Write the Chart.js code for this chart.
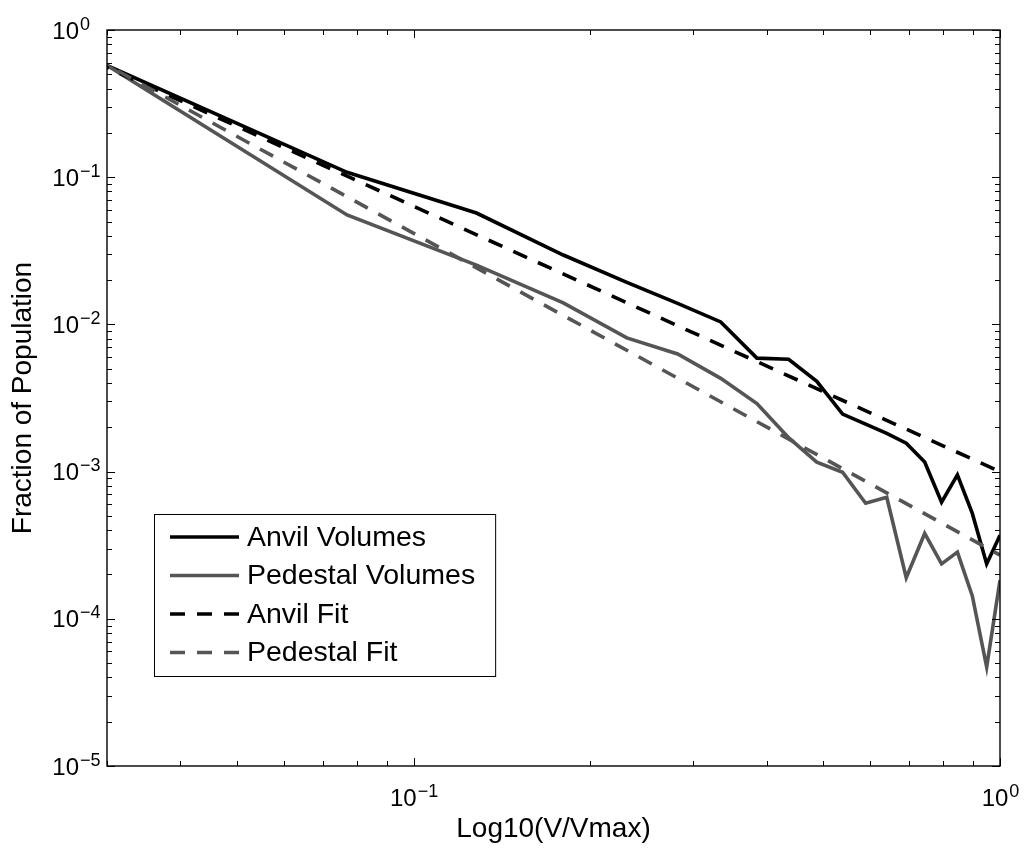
<!DOCTYPE html>
<html>
<head>
<meta charset="utf-8">
<script src="https://cdn.jsdelivr.net/npm/chart.js@4.4.0/dist/chart.umd.min.js"></script>
<style>
  html, body { margin: 0; padding: 0; background: #fff; }
  #wrap { width: 1026px; height: 848px; }
</style>
</head>
<body>
<div id="wrap"><canvas id="chart" width="1026" height="848"></canvas></div>
<script>
// V/Vmax bin positions (first one sits just left of the axis and gets clipped)
const xValues = [0.026, 0.077, 0.128, 0.180, 0.231, 0.282, 0.334, 0.385, 0.436, 0.487,
                 0.539, 0.590, 0.641, 0.692, 0.744, 0.795, 0.846, 0.897, 0.949, 1.0];
const anvilVolumes = [0.74, 0.108, 0.0571, 0.0296, 0.0193, 0.0139, 0.0104, 0.0059, 0.0058, 0.0041,
                      0.00246, 0.0021, 0.00182, 0.00156, 0.00116, 0.00062, 0.00095, 0.00052, 0.000236, 0.00037];
const pedestalVolumes = [0.82, 0.0554, 0.0253, 0.014, 0.0081, 0.0063, 0.0043, 0.0029, 0.0017, 0.00116,
                         0.00099, 0.00061, 0.00067, 0.00019, 0.00038, 0.000236, 0.000284, 0.000143, 0.000047, 0.000183];
// power-law fits, straight lines on log-log axes
const fitX = [0.026, 1.0];
const anvilFit = [0.72, 0.001];
const pedestalFit = [0.79, 0.000271];

const labels = ['Anvil Volumes', 'Pedestal Volumes', 'Anvil Fit', 'Pedestal Fit'];
const xTickExps = [-1, 0];
const yTickExps = [0, -1, -2, -3, -4, -5];
const xTitle = 'Log10(V/Vmax)';
const yTitle = 'Fraction of Population';

const FONT = '"Liberation Sans", Arial, Helvetica, sans-serif';
const BLACK = '#000000';
const GREY = '#555555';

const pts = (xs, ys) => xs.map((x, i) => ({ x: x, y: ys[i] }));

function pow10(ctx, e, x, y, mode) {
    // draws "10" with a raised exponent; mode 'x' centres it, 'y' right-aligns the base
    const exp = e < 0 ? '\u2212' + (-e) : String(e);
    ctx.font = '24px ' + FONT;
    const wb = ctx.measureText('10').width;
    ctx.font = '18px ' + FONT;
    const we = ctx.measureText(exp).width;
    let bx;
    if (mode === 'x') bx = x - (wb + we) / 2;
    else bx = x - wb;
    ctx.font = '24px ' + FONT;
    ctx.fillText('10', bx, y);
    ctx.font = '18px ' + FONT;
    ctx.fillText(exp, bx + wb + 1, y - 9);
}

const frame = {
    id: 'frame',
    afterDatasetsDraw(chart) {
        const { ctx, chartArea: a, scales: { x, y } } = chart;
        ctx.save();
        ctx.strokeStyle = '#000';
        ctx.lineWidth = 1.4;
        ctx.strokeRect(a.left, a.top, a.right - a.left, a.bottom - a.top);

        ctx.lineWidth = 1;
        ctx.beginPath();
        // y ticks, both sides
        yTickExps.forEach(e => {
            for (let m = 1; m <= 9; m++) {
                const v = m * Math.pow(10, e);
                if (v > 1.0001 || v < 1e-5) continue;
                const py = Math.round(y.getPixelForValue(v)) + 0.5;
                const len = m === 1 ? 8 : 5;
                ctx.moveTo(a.left, py); ctx.lineTo(a.left + len, py);
                ctx.moveTo(a.right, py); ctx.lineTo(a.right - len, py);
            }
        });
        // x ticks, top and bottom
        [-2, -1, 0].forEach(e => {
            for (let m = 1; m <= 9; m++) {
                const v = m * Math.pow(10, e);
                if (v > 1.0001 || v < 0.03) continue;
                const px = Math.round(x.getPixelForValue(v)) + 0.5;
                const len = m === 1 ? 8 : 5;
                ctx.moveTo(px, a.bottom); ctx.lineTo(px, a.bottom - len);
                ctx.moveTo(px, a.top); ctx.lineTo(px, a.top + len);
            }
        });
        ctx.stroke();

        ctx.fillStyle = '#000';
        ctx.textAlign = 'left';
        ctx.textBaseline = 'alphabetic';
        yTickExps.forEach(e => pow10(ctx, e, 79, y.getPixelForValue(Math.pow(10, e)) + 8.5, 'y'));
        xTickExps.forEach(e => pow10(ctx, e, x.getPixelForValue(Math.pow(10, e)), 806, 'x'));

        ctx.font = '28px ' + FONT;
        ctx.textAlign = 'center';
        ctx.fillText(xTitle, (a.left + a.right) / 2, 837);
        ctx.save();
        ctx.translate(31, (a.top + a.bottom) / 2);
        ctx.rotate(-Math.PI / 2);
        ctx.fillText(yTitle, 0, 0);
        ctx.restore();
        ctx.restore();
    },
    afterDraw(chart) {
        // legend box in the lower left of the plot
        const ctx = chart.ctx;
        const ds = chart.data.datasets;
        const x0 = 154, y0 = 514, rowH = 38.5;
        ctx.save();
        ctx.font = '28.5px ' + FONT;
        const tw = Math.max(...ds.map(d => ctx.measureText(d.label).width));
        const w = 93 + tw + 20, h = rowH * 4 + 8;
        ctx.fillStyle = '#fff';
        ctx.fillRect(x0, y0, w, h);
        ctx.strokeStyle = '#000';
        ctx.lineWidth = 1;
        ctx.strokeRect(x0 + 0.5, y0 + 0.5, w, h);
        ds.forEach((d, i) => {
            const cy = y0 + 23 + i * rowH;
            ctx.strokeStyle = d.borderColor;
            ctx.lineWidth = d.borderWidth;
            ctx.setLineDash(d.borderDash || []);
            ctx.beginPath();
            ctx.moveTo(x0 + 16, cy); ctx.lineTo(x0 + 85, cy);
            ctx.stroke();
            ctx.setLineDash([]);
            ctx.fillStyle = '#000';
            ctx.textBaseline = 'middle';
            ctx.fillText(d.label, x0 + 93, cy + 1);
        });
        ctx.restore();
    }
};

new Chart(document.getElementById('chart'), {
    type: 'line',
    data: {
        datasets: [
            { label: labels[0], data: pts(xValues, anvilVolumes), borderColor: BLACK, borderWidth: 3.6, order: 3 },
            { label: labels[1], data: pts(xValues, pedestalVolumes), borderColor: GREY, borderWidth: 3.6, order: 2 },
            { label: labels[2], data: pts(fitX, anvilFit), borderColor: BLACK, borderWidth: 3.6, borderDash: [15, 12], order: 1 },
            { label: labels[3], data: pts(fitX, pedestalFit), borderColor: GREY, borderWidth: 3.6, borderDash: [15, 12], order: 0 }
        ]
    },
    options: {
        responsive: false,
        animation: false,
        layout: { padding: { left: 107, top: 30, right: 26, bottom: 82 } },
        elements: { point: { radius: 0 }, line: { tension: 0, borderCapStyle: 'butt', borderJoinStyle: 'miter' } },
        scales: {
            x: { type: 'logarithmic', min: 0.03, max: 1, display: false },
            y: { type: 'logarithmic', min: 1e-5, max: 1, display: false }
        },
        plugins: { legend: { display: false }, tooltip: { enabled: false } }
    },
    plugins: [frame]
});
</script>
</body>
</html>
